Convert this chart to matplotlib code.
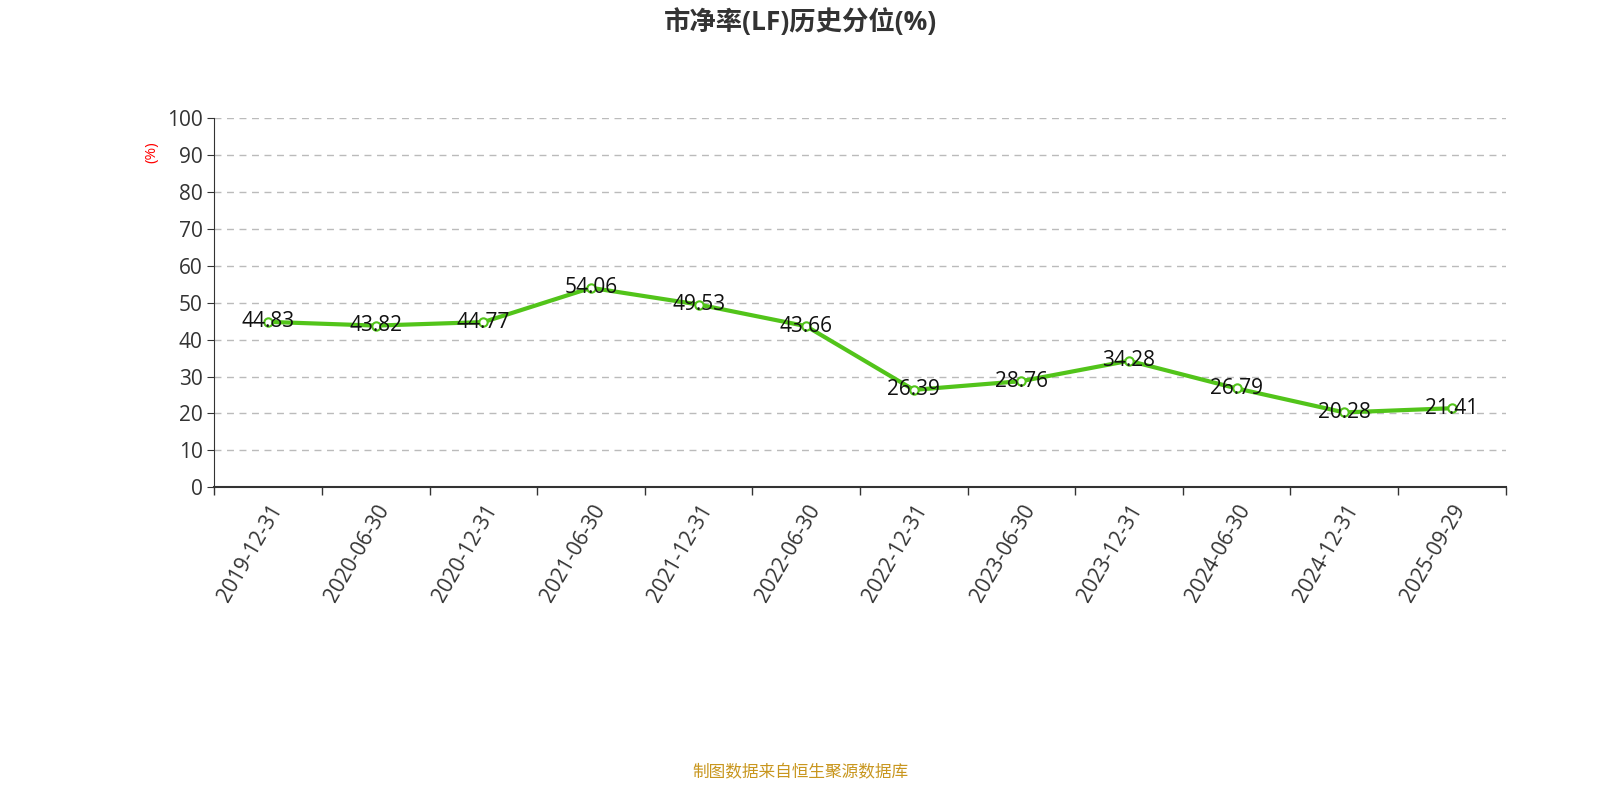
import matplotlib
matplotlib.use("Agg")
import matplotlib.pyplot as plt
from matplotlib.ticker import FixedLocator

plt.rcParams['font.family'] = ['Open Sans', 'Noto Sans CJK SC', 'DejaVu Sans']

dates = ["2019-12-31","2020-06-30","2020-12-31","2021-06-30","2021-12-31","2022-06-30",
         "2022-12-31","2023-06-30","2023-12-31","2024-06-30","2024-12-31","2025-09-29"]
values = [44.83,43.82,44.77,54.06,49.53,43.66,26.39,28.76,34.28,26.79,20.28,21.41]
yticks = list(range(0, 101, 10))

fig = plt.figure(figsize=(16, 8), dpi=100)
ax = fig.add_axes([0.134, 0.391, 0.807, 0.461])
x = list(range(len(dates)))
ax.plot(x, values, color="#52c41a", lw=3, marker="o", ms=6, mfc="white", mec="#52c41a", mew=1.5, zorder=3)
for xi, v in zip(x, values):
    ax.text(xi, v, f"{v:.2f}", ha="center", va="center", fontsize=15, color="#111", zorder=4)

ax.set_xlim(-0.5, len(dates) - 0.5)
ax.set_ylim(0, 100)
ax.set_yticks(yticks)
ax.set_yticklabels([str(t) for t in yticks], fontsize=15, color="#333")
ax.set_xticks(x)
ax.set_xticklabels(dates, rotation=60, ha="right", rotation_mode="anchor", fontsize=15, color="#333")
ax.tick_params(axis="x", length=0, pad=10)
ax.xaxis.set_minor_locator(FixedLocator([i - 0.5 for i in range(len(dates) + 1)]))
ax.tick_params(axis="x", which="minor", length=6, width=1, color="#333")
ax.tick_params(axis="y", length=5, color="#333")
ax.grid(axis="y", linestyle=(0, (5, 4)), color="#bbbbbb", lw=1)
for s in ["top", "right"]:
    ax.spines[s].set_visible(False)
ax.spines["left"].set_color("#333")
ax.spines["bottom"].set_color("#333")
ax.spines["bottom"].set_linewidth(1.5)

fig.text(0.095, 0.81, "(%)", rotation=90, color="red", fontsize=11, ha="center", va="center")
fig.text(0.5, 0.972, "市净率(LF)历史分位(%)", ha="center", va="center", fontsize=19, fontweight="bold", color="#333")
fig.text(0.5, 0.033, "制图数据来自恒生聚源数据库", ha="center", va="center", fontsize=12, color="#c8961e")

fig.savefig("out.png", dpi=100)
